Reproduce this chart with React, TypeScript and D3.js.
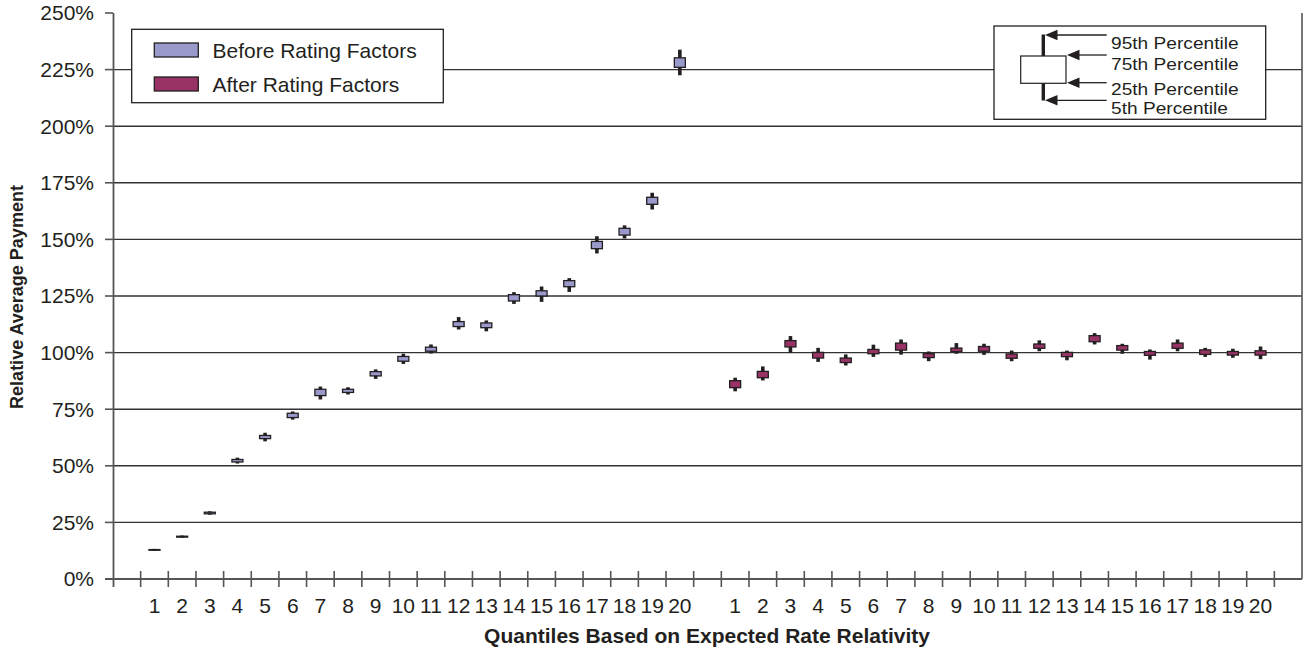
import React from "react";
import * as d3 from "d3";

const quantiles = ["1","2","3","4","5","6","7","8","9","10","11","12","13","14","15","16","17","18","19","20"];
const seriesNames = ["Before Rating Factors", "After Rating Factors"];
const yTicks = [0, 25, 50, 75, 100, 125, 150, 175, 200, 225, 250];

// Before rating factors (percent)
const beforeP5  = [12.4, 18.2, 28.4, 51.0, 60.8, 70.4, 79.3, 81.5, 88.4, 95.0, 99.6, 110.2, 109.4, 121.5, 122.4, 126.8, 143.8, 150.4, 163.2, 222.5];
const beforeQ25 = [12.7, 18.5, 28.8, 51.7, 62.0, 71.3, 81.0, 82.4, 89.7, 96.2, 100.6, 111.5, 111.0, 122.8, 125.0, 129.1, 145.9, 151.9, 165.5, 226.0];
const beforeQ75 = [13.0, 18.9, 29.5, 52.8, 63.4, 73.2, 83.8, 83.8, 91.6, 98.3, 102.4, 113.7, 113.1, 125.6, 127.3, 131.8, 149.1, 154.9, 168.6, 230.2];
const beforeP95 = [13.3, 19.2, 29.9, 53.6, 64.6, 74.0, 85.0, 84.7, 92.6, 99.5, 103.6, 115.7, 114.2, 126.7, 129.2, 132.9, 151.4, 156.2, 170.6, 233.8];

// After rating factors (percent)
const afterP5  = [82.9, 87.7, 99.9, 95.9, 94.3, 98.1, 99.1, 96.2, 99.5, 99.0, 96.2, 100.6, 96.6, 103.6, 99.5, 96.9, 100.6, 98.1, 97.7, 97.1];
const afterQ25 = [84.5, 88.9, 102.5, 97.6, 95.6, 99.5, 101.1, 97.8, 100.4, 100.6, 97.5, 101.9, 98.2, 104.8, 101.1, 98.8, 101.9, 99.2, 98.9, 98.9];
const afterQ75 = [87.6, 91.7, 105.3, 100.1, 97.6, 101.4, 104.2, 99.5, 102.0, 102.7, 99.4, 103.8, 100.1, 107.5, 103.1, 100.5, 104.2, 101.2, 100.5, 100.8];
const afterP95 = [88.9, 93.9, 107.3, 102.1, 99.2, 103.5, 105.8, 100.5, 104.2, 103.9, 100.9, 105.4, 100.9, 108.6, 103.9, 101.4, 105.8, 102.1, 101.7, 102.7];

const percentileLabels = ["95th Percentile", "75th Percentile", "25th Percentile", "5th Percentile"];

const INK = "#231f20";
const BEFORE_FILL = "#9999cc";
const AFTER_FILL = "#993366";
const FONT = "'Liberation Sans', Arial, Helvetica, sans-serif";

const W = 1303, H = 653;

export default function App() {
  // slots: blank, before 1..20, blank, after 1..20, blank
  const slots: string[] = ["s0", ...quantiles.map(q => "b" + q), "gap", ...quantiles.map(q => "a" + q), "s2"];
  const x = d3.scaleBand<string>().domain(slots).range([113, 1302]).paddingInner(0).paddingOuter(0);
  const y = d3.scaleLinear().domain([0, 250]).range([579, 13]);
  const bw = x.bandwidth();

  const series = [
    { name: seriesNames[0], prefix: "b", fill: BEFORE_FILL, p5: beforeP5, q25: beforeQ25, q75: beforeQ75, p95: beforeP95 },
    { name: seriesNames[1], prefix: "a", fill: AFTER_FILL, p5: afterP5, q25: afterQ25, q75: afterQ75, p95: afterP95 },
  ];

  const boxW = 11;
  const boundaries = slots.map(s => x(s) as number);
  const plBaselines = [48.8, 69.8, 95.3, 114];

  return (
    <svg width={W} height={H} style={{ position: "absolute", left: 0, top: 0 }} fontFamily={FONT}>
      <rect x={0} y={0} width={W} height={H} fill="#ffffff" />
      {/* gridlines */}
      {yTicks.filter(t => t > 0 && t < 250).map(t => (
        <line key={"g" + t} x1={113} x2={1302} y1={y(t)} y2={y(t)} stroke="#333" strokeWidth={1.4} />
      ))}
      {/* right border */}
      <line x1={1302} x2={1302} y1={y(250)} y2={y(0)} stroke="#555" strokeWidth={1.6} />
      {/* y axis */}
      <line x1={113.5} x2={113.5} y1={y(250)} y2={587} stroke="#555" strokeWidth={1.8} />
      {yTicks.map(t => (
        <g key={"yt" + t}>
          <line x1={105} x2={113} y1={y(t)} y2={y(t)} stroke="#555" strokeWidth={1.6} />
          <text x={94} y={y(t)} dy="0.35em" textAnchor="end" fontSize={21} fill={INK}>{t + "%"}</text>
        </g>
      ))}
      {/* x axis */}
      <line x1={105} x2={1302} y1={y(0)} y2={y(0)} stroke="#555" strokeWidth={1.8} />
      {boundaries.slice(1).map((b, i) => (
        <line key={"xt" + i} x1={b} x2={b} y1={571} y2={587} stroke="#555" strokeWidth={1.6} />
      ))}
      {series.map(s => quantiles.map(q => (
        <text key={"xl" + s.prefix + q} x={(x(s.prefix + q) as number) + bw / 2} y={613} textAnchor="middle" fontSize={21} fill={INK}>{q}</text>
      )))}
      {/* axis titles */}
      <text x={707} y={643} textAnchor="middle" fontSize={21} fontWeight="bold" fill={INK}>Quantiles Based on Expected Rate Relativity</text>
      <text transform="translate(23,297) rotate(-90)" textAnchor="middle" fontSize={18} fontWeight="bold" fill={INK}>Relative Average Payment</text>

      {/* box plots */}
      {series.map(s => quantiles.map((q, i) => {
        const cx = (x(s.prefix + q) as number) + bw / 2;
        return (
          <g key={"bx" + s.prefix + q}>
            <line x1={cx} x2={cx} y1={y(s.p5[i])} y2={y(s.p95[i])} stroke={INK} strokeWidth={3.6} />
            <rect x={cx - boxW / 2} y={y(s.q75[i])} width={boxW} height={Math.max(0.5, y(s.q25[i]) - y(s.q75[i]))} fill={s.fill} stroke={INK} strokeWidth={1.3} />
          </g>
        );
      }))}

      {/* colour legend */}
      <rect x={131.7} y={29.3} width={311.6} height={73.4} fill="#fff" stroke={INK} strokeWidth={1.3} />
      {series.map((s, i) => (
        <g key={"lg" + i}>
          <rect x={154.3} y={43 + i * 34} width={44} height={14} fill={s.fill} stroke={INK} strokeWidth={1.3} />
          <text x={212.5} y={57.5 + i * 34} fontSize={21} fill={INK}>{s.name}</text>
        </g>
      ))}

      {/* percentile legend */}
      <rect x={994} y={26} width={271.7} height={93.3} fill="#fff" stroke={INK} strokeWidth={1.3} />
      <line x1={1043.3} x2={1043.3} y1={34.5} y2={100.5} stroke={INK} strokeWidth={3.4} />
      <rect x={1020.7} y={56} width={45.3} height={27.3} fill="#fff" stroke={INK} strokeWidth={1.2} />
      {[
        { tip: 1045, yy: 35 },
        { tip: 1067, yy: 55 },
        { tip: 1067, yy: 82.7 },
        { tip: 1045, yy: 100.3 },
      ].map((a, i) => (
        <g key={"ar" + i}>
          <line x1={a.tip + 8} x2={1106.7} y1={a.yy} y2={a.yy} stroke={INK} strokeWidth={1.3} />
          <polygon points={`${a.tip},${a.yy} ${a.tip + 12.5},${a.yy - 5.3} ${a.tip + 12.5},${a.yy + 5.3}`} fill={INK} />
        </g>
      ))}
      {percentileLabels.map((l, i) => (
        <text key={"pl" + i} transform={`translate(1111,${plBaselines[i]}) scale(1.16,1)`} x={0} y={0} fontSize={16.5} fill={INK}>{l}</text>
      ))}
    </svg>
  );
}
